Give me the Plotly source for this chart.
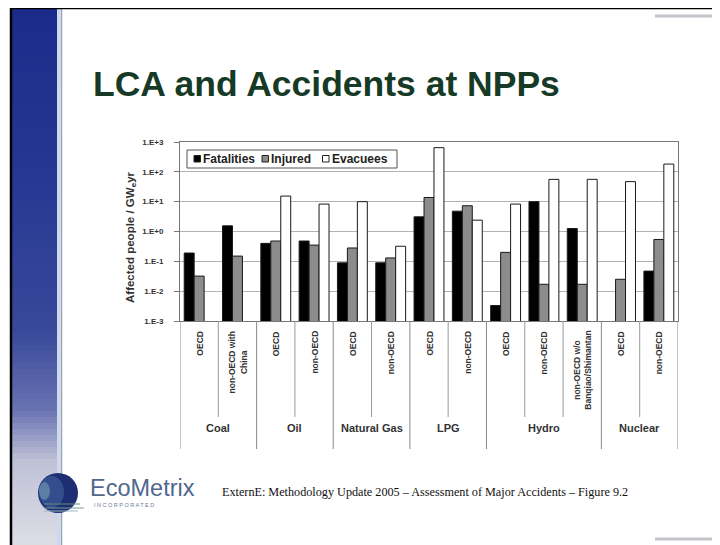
import plotly.graph_objects as go

# ---------------- data ----------------
categories = ["OECD", "non-OECD with<br>China", "OECD", "non-OECD", "OECD", "non-OECD",
              "OECD", "non-OECD", "OECD", "non-OECD", "non-OECD w/o<br>Banqiao/Shimantan",
              "OECD", "non-OECD"]
groups = ["Coal", "Oil", "Natural Gas", "LPG", "Hydro", "Nuclear"]
group_sizes = [2, 2, 2, 2, 3, 2]
fatalities = [0.19, 1.55, 0.40, 0.48, 0.089, 0.089, 3.1, 4.8, 0.0033, 10.0, 1.26, None, 0.047]
injured = [0.032, 0.15, 0.48, 0.35, 0.28, 0.13, 13.8, 7.3, 0.20, 0.017, 0.017, 0.025, 0.54]
evacuees = [None, None, 15.4, 8.3, 10.0, 0.32, 645, 2.4, 8.3, 56, 56, 47, 182]
series_names = ["Fatalities", "Injured", "Evacuees"]
y_tick_values = [1e-3, 1e-2, 1e-1, 1e0, 1e1, 1e2, 1e3]
y_tick_labels = ["1.E-3", "1.E-2", "1.E-1", "1.E+0", "1.E+1", "1.E+2", "1.E+3"]
title_text = "LCA and Accidents at NPPs"
y_title = "Affected people / GW<sub>e</sub>yr"
footer_text = "ExternE: Methodology Update 2005 \u2013 Assessment of Major Accidents \u2013 Figure 9.2"

# ---------------- layout geometry ----------------
OFF = 8                     # page body margin of the browser
W, H = 720 - OFF, 545 - OFF
X0, X1, Y0, Y1 = 180, 678, 142, 321  # plot area in page pixels


def px(x):
    return (x - X0) / (X1 - X0)


def py(y):
    return (Y1 - y) / (Y1 - Y0)


ARIAL = "Arial, Liberation Sans, sans-serif"
xs = list(range(len(categories)))

fig = go.Figure()
fills = ["#000000", "#8c8c8c", "#ffffff"]
for name, vals, col in zip(series_names, [fatalities, injured, evacuees], fills):
    fig.add_trace(go.Bar(x=xs, y=vals, name=name, showlegend=False,
                         marker=dict(color=col, line=dict(color="#1a1a1a", width=1))))

shapes = []
annotations = []


def rect(x0, y0, x1, y1, color, line=None, lw=0):
    shapes.append(dict(type="rect", xref="paper", yref="paper",
                       x0=px(x0), x1=px(x1), y0=py(y0), y1=py(y1),
                       fillcolor=color, line=dict(color=line or color, width=lw), layer="above"))


def hline(x0, x1, y, color, w):
    shapes.append(dict(type="line", xref="paper", yref="paper", x0=px(x0), x1=px(x1),
                       y0=py(y), y1=py(y), line=dict(color=color, width=w), layer="above"))


def vline(x, y0, y1, color, w):
    shapes.append(dict(type="line", xref="paper", yref="paper", x0=px(x), x1=px(x),
                       y0=py(y0), y1=py(y1), line=dict(color=color, width=w), layer="above"))


# ---- slide decoration: blue band with gradient ----
stops = [(9, (27, 43, 138)), (160, (36, 54, 145)), (330, (56, 72, 154)),
         (410, (105, 115, 178)), (460, (190, 192, 214)), (545, (222, 222, 230))]
step = 6
y = 9
while y < 545:
    yc = y + step / 2
    for (ya, ca), (yb, cb) in zip(stops[:-1], stops[1:]):
        if ya <= yc <= yb:
            t = (yc - ya) / (yb - ya)
            c = tuple(int(round(ca[i] + (cb[i] - ca[i]) * t)) for i in range(3))
            break
    rect(12, y, 57, min(y + step + 0.6, 545), "rgb(%d,%d,%d)" % c)
    y += step
rect(57, 9, 60.5, 545, "#cfd9ee")
vline(61.5, 9, 545, "#9aa4b8", 1.5)
# black border
hline(10, 720, 8, "#000000", 2.5)
vline(11, 7, 545, "#000000", 2.5)
# grey short lines at right
hline(655, 720, 16, "#c4c5cc", 3)
hline(655, 720, 539, "#c4c5cc", 3)

# ---- title ----
annotations.append(dict(text="<b>%s</b>" % title_text, xref="paper", yref="paper",
                        x=px(91), y=py(84), xanchor="left", yanchor="middle", showarrow=False,
                        font=dict(family=ARIAL, size=35.5, color="#163a26")))

# ---- legend (custom box) ----
rect(187, 150, 397, 168, "rgba(255,255,255,1)", "#555555", 1)
leg_pos = [(194, 201), (262, 269), (322.5, 329.5)]
for (sx, tx), name, col in zip(leg_pos, series_names, fills):
    rect(sx, 155.5, sx + 6.5, 162, col, "#222222", 1)
    annotations.append(dict(text="<b>%s</b>" % name, xref="paper", yref="paper",
                            x=px(tx), y=py(159), xanchor="left", yanchor="middle",
                            showarrow=False, font=dict(family=ARIAL, size=12, color="#222")))

# ---- y title ----
annotations.append(dict(text="<b>%s</b>" % y_title, xref="paper", yref="paper",
                        x=px(131), y=py(237), textangle=-90, showarrow=False,
                        xanchor="center", yanchor="middle",
                        font=dict(family=ARIAL, size=11.5, color="#333")))

# ---- category labels and separators ----
for i, lab in enumerate(categories):
    annotations.append(dict(text="<b>%s</b>" % lab, xref="x", yref="paper", x=i, y=py(329),
                            textangle=-90, xanchor="center", yanchor="top", showarrow=False,
                            align="center", font=dict(family=ARIAL, size=8.5, color="#333")))

start = 0
group_edges = [-0.5]
for g, n in zip(groups, group_sizes):
    center = start + (n - 1) / 2
    annotations.append(dict(text="<b>%s</b>" % g, xref="x", yref="paper", x=center, y=py(428),
                            xanchor="center", yanchor="middle", showarrow=False,
                            font=dict(family=ARIAL, size=11, color="#333")))
    for k in range(1, n):
        shapes.append(dict(type="line", xref="x", yref="paper", x0=start + k - 0.5,
                           x1=start + k - 0.5, y0=py(Y1), y1=py(417),
                           line=dict(color="#9a9a9a", width=1)))
    start += n
    group_edges.append(start - 0.5)
for e in group_edges:
    shapes.append(dict(type="line", xref="x", yref="paper", x0=e, x1=e, y0=py(Y1), y1=py(449),
                       line=dict(color="#8a8a8a", width=1)))

# ---- logo ----
shapes.append(dict(type="circle", xref="paper", yref="paper", x0=px(38), x1=px(78),
                   y0=py(513), y1=py(473), fillcolor="#1d2f72", line=dict(width=0)))
shapes.append(dict(type="circle", xref="paper", yref="paper", x0=px(39), x1=px(64),
                   y0=py(508), y1=py(476), fillcolor="#4f74b0", opacity=0.45, line=dict(width=0)))
shapes.append(dict(type="circle", xref="paper", yref="paper", x0=px(39), x1=px(50),
                   y0=py(500), y1=py(482), fillcolor="#8fb8c0", opacity=0.45, line=dict(width=0)))
for yy, xe, col in [(504, 80, "#5f8f7c"), (508, 84, "#77a096"), (511, 78, "#9fb8c0")]:
    hline(44, xe, yy, col, 1.2)
annotations.append(dict(text="EcoMetrix", xref="paper", yref="paper", x=px(88), y=py(488),
                        xanchor="left", yanchor="middle", showarrow=False,
                        font=dict(family=ARIAL, size=23.5, color="#51678e")))
annotations.append(dict(text="I N C O R P O R A T E D", xref="paper", yref="paper", x=px(92),
                        y=py(505), xanchor="left", yanchor="middle", showarrow=False,
                        font=dict(family=ARIAL, size=5.5, color="#6c7a98")))

# ---- footer ----
annotations.append(dict(text=footer_text, xref="paper", yref="paper", x=px(220), y=py(492),
                        xanchor="left", yanchor="middle", showarrow=False,
                        font=dict(family="Times New Roman, Liberation Serif, serif", size=12.2,
                                  color="#111")))

fig.update_layout(
    width=W, height=H,
    margin=dict(l=X0 - OFF, r=720 - X1, t=Y0 - OFF, b=545 - Y1, pad=0),
    paper_bgcolor="white", plot_bgcolor="white",
    barmode="group", bargap=0.22, bargroupgap=0,
    showlegend=False,
    shapes=shapes, annotations=annotations,
    xaxis=dict(range=[-0.5, len(categories) - 0.5], showticklabels=False, showgrid=False,
               zeroline=False, showline=True, linecolor="#777", linewidth=1, mirror=True,
               ticks="", fixedrange=True),
    yaxis=dict(type="log", range=[-3, 3], tickvals=y_tick_values,
               ticktext=["<b>%s</b>" % t for t in y_tick_labels],
               showgrid=True, gridcolor="#b3b3b3", gridwidth=1, zeroline=False,
               showline=True, linecolor="#777", linewidth=1, mirror=True,
               ticks="outside", ticklen=5, tickcolor="#777", ticklabelstandoff=9,
               tickfont=dict(family=ARIAL, size=8, color="#333"), fixedrange=True),
)

fig.write_html("out.html")
